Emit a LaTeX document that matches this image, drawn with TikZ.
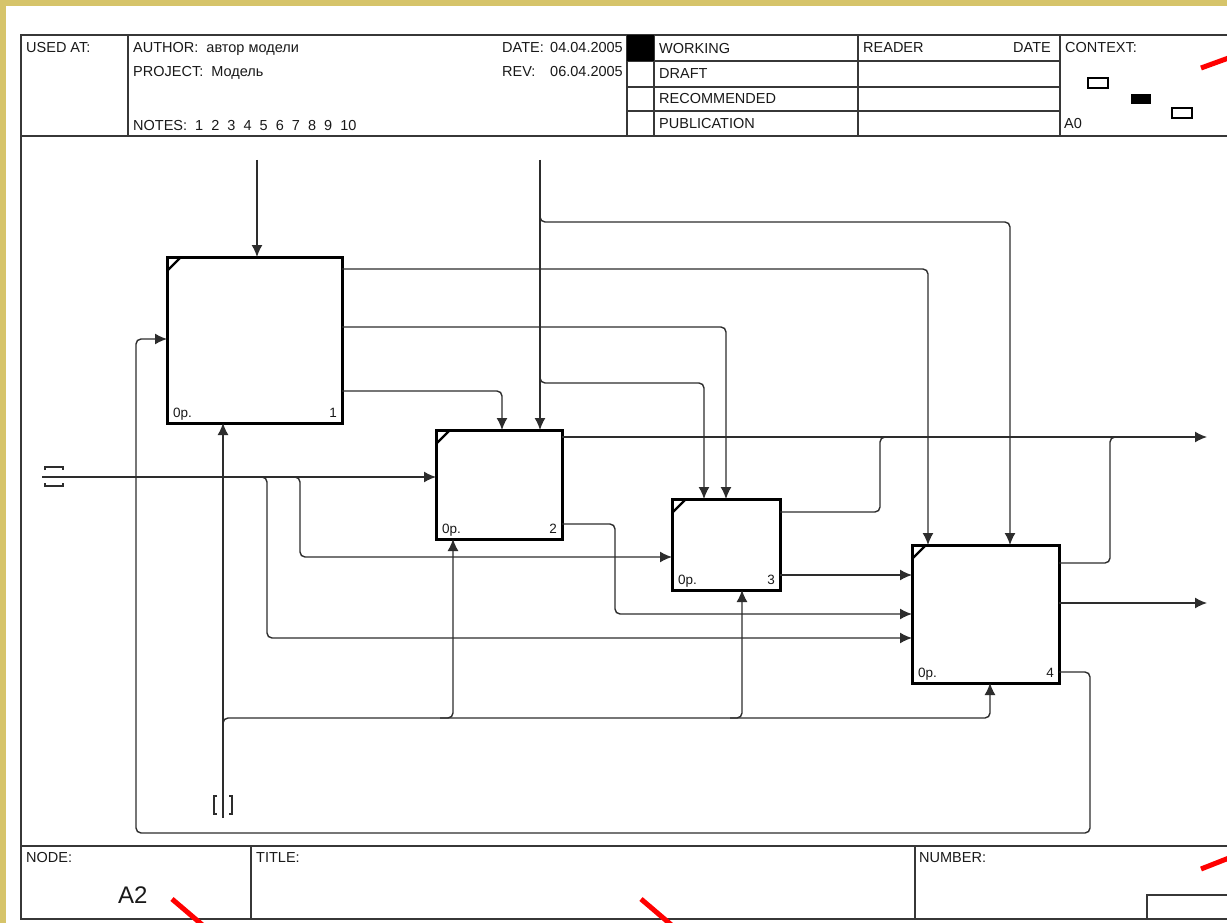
\documentclass[tikz,border=0pt]{standalone}
\usepackage{fontspec}
\setmainfont{Liberation Sans}
\usetikzlibrary{arrows.meta,calc}
\definecolor{khaki}{RGB}{214,196,106}
\definecolor{lineclr}{RGB}{45,45,45}
\definecolor{frameclr}{RGB}{55,55,55}
\definecolor{txtclr}{RGB}{25,25,25}
\begin{document}
\begin{tikzpicture}[x=1pt,y=-1pt,
  fn/.style={draw=black, line width=3pt, rectangle, inner sep=0pt, outer sep=0pt, fill=white},
  conn/.style={draw=lineclr, line width=1.4pt, rounded corners=5pt},
  arr/.style={conn, -{Latex[length=12pt,width=11pt]}},
  frm/.style={draw=frameclr, line width=1.5pt},
  tun/.style={draw=lineclr, line width=1.3pt},
  lbl/.style={font=\fontsize{14.5}{16}\selectfont, text=txtclr, anchor=base west, inner sep=0pt},
  lble/.style={lbl, anchor=base east},
  small/.style={font=\fontsize{13.5}{15}\selectfont, text=txtclr, inner sep=0pt},
  redmark/.style={draw=red, line width=5pt}]
\useasboundingbox (0,0) rectangle (1227,923);
\clip (0,0) rectangle (1227,923);
\fill[white] (0,0) rectangle (1227,923);
\fill[khaki] (0,0) rectangle (1227,6);
\fill[khaki] (0,0) rectangle (6,923);

% frame
\draw[frm] (1240,35) -- (21,35) -- (21,919) -- (1240,919);
\draw[frm] (21,136) -- (1240,136);
\draw[frm] (21,846) -- (1240,846);
\foreach \xx in {128,627,654,858,1060} \draw[frm] (\xx,35) -- (\xx,136);
\foreach \yy in {61,87,111} \draw[frm] (627,\yy) -- (1060,\yy);
\fill[black] (627,35) rectangle (654,61);
\draw[frm] (251,846) -- (251,919);
\draw[frm] (915,846) -- (915,919);
\draw[frm] (1240,895) -- (1147,895) -- (1147,919);
% context thumbnails
\draw[line width=1.1pt] (1088,78) rectangle (1108,88);
\fill[black] (1131,94) rectangle (1151,104);
\draw[line width=1.1pt] (1172,108) rectangle (1192,118);

% header texts
\node[lbl] (usedat) at (26,53) {USED AT:};
\node[lbl] (author) at (133,53) {AUTHOR:~~автор модели};
\node[lbl] (project) at (133,77) {PROJECT:~~Модель};
\node[lbl] (notes) at (133,131) {NOTES:~~1~~2~~3~~4~~5~~6~~7~~8~~9~~10};
\node[lbl] (datel) at (502,53) {DATE:};
\node[lble] (datev) at (623,53) {04.04.2005};
\node[lbl] (revl) at (502,77) {REV:};
\node[lble] (revv) at (623,77) {06.04.2005};
\node[lbl] (working) at (659,54) {WORKING};
\node[lbl] (draft) at (659,79) {DRAFT};
\node[lbl] (recom) at (659,104) {RECOMMENDED};
\node[lbl] (publ) at (659,129) {PUBLICATION};
\node[lbl] (reader) at (863,53) {READER};
\node[lble] (rdate) at (1051,53) {DATE};
\node[lbl] (context) at (1065,53) {CONTEXT:};
\node[lbl] (azero) at (1064,129) {A0};
% footer texts
\node[lbl] (nodel) at (26,862) {NODE:};
\node[lbl, font=\fontsize{24}{28}\selectfont] (nodev) at (118,903) {A2};
\node[lbl] (title) at (256,862) {TITLE:};
\node[lbl] (number) at (919,862) {NUMBER:};

% free ends
\coordinate (c1) at (257,160);
\coordinate (c2) at (540,160);
\coordinate (in1) at (42,477);
\coordinate (in2) at (223,818);
\coordinate (o1) at (1207,437);
\coordinate (o2) at (1207,603);

% boxes
\node[fn, minimum width=175pt, minimum height=166pt] (b1) at (254.5,340) {};
\node[fn, minimum width=126pt, minimum height=109pt] (b2) at (499,484.5) {};
\node[fn, minimum width=108pt, minimum height=91pt] (b3) at (726,544.5) {};
\node[fn, minimum width=147pt, minimum height=138pt] (b4) at (985.5,614) {};

% connectors
\draw[arr] (c1) -- (c1 |- b1.north);
\draw[arr] (c2) -- (c2 |- b2.north);
\draw[arr] (540,214) -- (540,222) -- (1010,222) -- (1010,222 |- b4.north);
\draw[arr] (540,375) -- (540,383) -- (704,383) -- (704,383 |- b3.north);
\draw[arr] (b1.east |- 0,269) -- (928,269) -- (928,269 |- b4.north);
\draw[arr] (b1.east |- 0,327) -- (726,327) -- (726,327 |- b3.north);
\draw[arr] (b1.east |- 0,391) -- (502,391) -- (502,391 |- b2.north);
\draw[arr] (b2.east |- o1) -- (o1);
\draw[arr] (b2.east |- 0,524) -- (615,524) -- (615,614) -- (b4.west |- 0,614);
\draw[conn] (b3.east |- 0,512) -- (880,512) -- (880,437) -- (892,437);
\draw[arr] (b3.east |- 0,575) -- (b4.west |- 0,575);
\draw[conn] (b4.east |- 0,563) -- (1110,563) -- (1110,437) -- (1122,437);
\draw[arr] (b4.east |- o2) -- (o2);
\draw[arr] (b4.east |- 0,672) -- (1090,672) -- (1090,833) -- (136,833) -- (136,339) -- (b1.west |- 0,339);
\draw[arr] (in1) -- (in1 -| b2.west);
\draw[arr] (256,477) -- (267,477) -- (267,638) -- (b4.west |- 0,638);
\draw[arr] (289,477) -- (300,477) -- (300,557) -- (b3.west |- 0,557);
\draw[arr] (in2) -- (in2 |- b1.south);
\draw[arr] (223,728) -- (223,718) -- (453,718) -- (453,718 |- b2.south);
\draw[arr] (440,718) -- (742,718) -- (742,718 |- b3.south);
\draw[arr] (730,718) -- (990,718) -- (990,718 |- b4.south);

% tunnels
\draw[tun] (45,470) -- (45,467) -- (63,467) -- (63,470);
\draw[tun] (45,483) -- (45,486) -- (63,486) -- (63,483);
\draw[tun] (217,796) -- (214,796) -- (214,814) -- (217,814);
\draw[tun] (229,796) -- (232,796) -- (232,814) -- (229,814);

% box decorations
\foreach \b/\n in {b1/1,b2/2,b3/3,b4/4}{
  \draw[line width=2.4pt] ($(\b.north west)+(0,14)$) -- ($(\b.north west)+(14,0)$);
  \node[small, anchor=base west] (\b cost) at ($(\b.south west)+(6,-6)$) {0р.};
  \node[small, anchor=base east] (\b num) at ($(\b.south east)+(-5,-6)$) {\n};
}

% red marks
\draw[redmark] (1201,68) -- (1234,56);
\draw[redmark] (1201,869) -- (1234,856);
\draw[redmark] (172,899) -- (206,928);
\draw[redmark] (641,899) -- (675,928);
\end{tikzpicture}
\end{document}
